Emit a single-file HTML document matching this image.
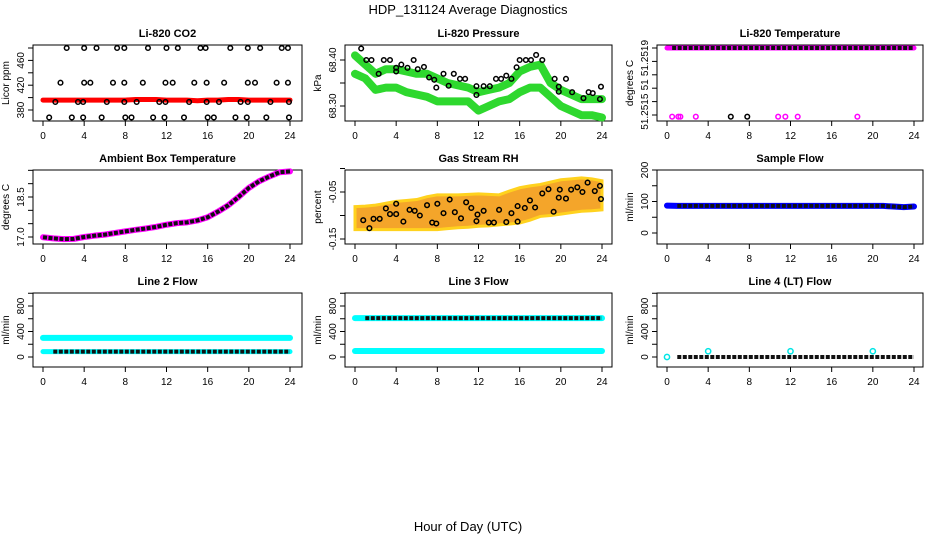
<!DOCTYPE html>
<html><head><meta charset="utf-8"><style>
body{margin:0;background:#fff;}
svg{display:block;font-family:"Liberation Sans",sans-serif;}
</style></head><body>
<svg id="c" width="936" height="540" viewBox="0 0 936 540">
<text x="468" y="14" text-anchor="middle" font-size="13">HDP_131124  Average Diagnostics</text>
<text x="468" y="531" text-anchor="middle" font-size="13">Hour of Day (UTC)</text>
</svg>
<script>
// ---- data ----
const hours = [0,1,2,3,4,5,6,7,8,9,10,11,12,13,14,15,16,17,18,19,20,21,22,23,24];
const xTicks = [0,4,8,12,16,20,24];
// CO2
const co2Red = [396,396,396,396,396,396,396,396,396,397,397,397,396,396,396,395,396,396,397,397,396,396,396,396,396];
const co2TopT = [2.3,4.0,5.2,7.2,7.9,10.2,12.0,13.1,15.3,15.8,18.2,19.9,21.1,23.2,23.8];
const co2TopV = [480,480,480,480,480,480,480,480,480,480,480,480,480,480,480];
const co2MidT = [1.7,4.0,4.6,6.8,7.9,9.7,11.9,12.6,14.7,15.9,17.6,19.9,20.6,22.7,23.8];
const co2MidV = [424,424,424,424,424,424,424,424,424,424,424,424,424,424,424];
const co2LowT = [1.2,3.4,3.9,6.2,7.9,9.1,11.3,11.9,14.2,15.9,17.1,19.2,19.9,22.1,23.9];
const co2LowV = [393,393,393,393,393,393,393,393,393,393,393,393,393,393,393];
const co2BotT = [0.6,2.8,3.9,5.7,8.0,8.6,10.7,11.8,13.7,16.0,16.6,18.7,19.8,21.7,23.9];
const co2BotV = [368,368,368,368,368,368,368,368,368,368,368,368,368,368,368];
// Pressure
const presUpper = [68.41,68.39,68.37,68.38,68.38,68.375,68.37,68.37,68.36,68.35,68.345,68.34,68.33,68.335,68.34,68.35,68.375,68.385,68.39,68.35,68.335,68.325,68.315,68.315,68.315];
const presLower = [68.37,68.36,68.335,68.34,68.34,68.33,68.325,68.32,68.31,68.31,68.31,68.31,68.29,68.3,68.31,68.315,68.33,68.34,68.34,68.32,68.30,68.29,68.28,68.28,68.275];
const presT = [0.6,1.1,1.6,2.3,2.8,3.4,4.0,4.0,4.5,5.1,5.7,6.1,6.7,7.2,7.7,7.9,8.6,9.1,9.6,10.2,10.7,11.8,11.8,12.5,13.1,13.7,14.2,14.7,15.2,15.7,16.0,16.6,17.1,17.6,18.2,19.4,19.8,19.8,20.5,21.1,22.2,22.7,23.1,23.8,23.9];
const presV = [68.425,68.40,68.40,68.37,68.40,68.40,68.383,68.375,68.39,68.383,68.40,68.38,68.385,68.362,68.357,68.34,68.37,68.344,68.37,68.359,68.359,68.343,68.324,68.343,68.343,68.359,68.359,68.366,68.359,68.384,68.40,68.40,68.40,68.411,68.40,68.359,68.342,68.331,68.359,68.33,68.317,68.33,68.328,68.315,68.342];
// Li-820 temperature
const tempTopV = [51.2519,51.2519];
const tempTopT = [0,24];
const tempLowMagT = [0.5,1.1,1.3,2.8,10.8,11.5,12.7,18.5];
const tempLowBlkT = [6.2,7.8];
const tempLowV = 51.25149;
// Ambient box temperature
const ambV = [16.99,16.95,16.92,16.93,17.0,17.05,17.09,17.15,17.21,17.27,17.32,17.38,17.46,17.52,17.55,17.62,17.74,17.95,18.19,18.5,18.84,19.09,19.27,19.43,19.46];
// Gas stream RH
const rhUpper = [-0.081,-0.080,-0.078,-0.074,-0.070,-0.068,-0.066,-0.060,-0.056,-0.056,-0.056,-0.055,-0.054,-0.055,-0.056,-0.048,-0.041,-0.037,-0.034,-0.029,-0.024,-0.022,-0.020,-0.022,-0.026];
const rhLower = [-0.13,-0.13,-0.13,-0.13,-0.13,-0.13,-0.13,-0.13,-0.13,-0.128,-0.126,-0.125,-0.123,-0.122,-0.12,-0.118,-0.116,-0.11,-0.102,-0.1,-0.097,-0.094,-0.091,-0.09,-0.088];
const rhT = [0.8,1.4,1.8,2.4,3.0,3.4,4.0,4.0,4.7,5.3,5.8,6.3,7.0,7.5,7.9,8.0,8.6,9.2,9.7,10.3,10.8,11.3,11.8,11.9,12.5,13.0,13.5,14.0,14.7,15.2,15.8,15.8,16.5,17.0,17.5,18.2,18.8,19.3,19.8,19.9,20.5,21.0,21.6,22.1,22.6,23.3,23.8,23.9];
const rhV = [-0.11,-0.127,-0.107,-0.107,-0.085,-0.097,-0.075,-0.097,-0.113,-0.088,-0.09,-0.1,-0.078,-0.115,-0.117,-0.075,-0.095,-0.066,-0.093,-0.106,-0.072,-0.084,-0.112,-0.098,-0.09,-0.115,-0.115,-0.088,-0.114,-0.095,-0.08,-0.113,-0.084,-0.068,-0.083,-0.053,-0.044,-0.092,-0.062,-0.045,-0.064,-0.045,-0.04,-0.05,-0.03,-0.048,-0.037,-0.065];
// Flows
const sampleV = [87,86,86,86,86,86,86,86,86,86,86,86,86,86,86,86,86,86,86,86,86,86,84,82,84];
const line2Cyan = [300,300,300,300,300,300,300,300,300,300,300,300,300,300,300,300,300,300,300,300,300,300,300,300,300];
const line2Blk = [85,85,85,85,85,85,85,85,85,85,85,85,85,85,85,85,85,85,85,85,85,85,85,85,85];
const line3Blk = [610,610,610,610,610,610,610,610,610,610,610,610,610,610,610,610,610,610,610,610,610,610,610,610,610];
const line3Cyan = [95,95,95,95,95,95,95,95,95,95,95,95,95,95,95,95,95,95,95,95,95,95,95,95,95];
const line4Blk = [0,0,0,0,0,0,0,0,0,0,0,0,0,0,0,0,0,0,0,0,0,0,0,0,0];
const line4SpikeT = [0,4,12,20];
const line4SpikeV = [0,90,90,90];

// ---- drawing ----
const svg = document.getElementById('c');
const NS = 'http://www.w3.org/2000/svg';
function mk(tag, attrs, parent){const e=document.createElementNS(NS,tag);for(const k in attrs)e.setAttribute(k,attrs[k]);(parent||svg).appendChild(e);return e;}

function panel(cfg){
  const g = mk('g',{});
  
  
  const sx = t => cfg.px0 + (t/24)*(cfg.px1-cfg.px0);
  const sy = v => cfg.py0 + (v-cfg.v0)*(cfg.py1-cfg.py0)/(cfg.v1-cfg.v0);
  const box = mk('rect',{x:cfg.bx0,y:cfg.by0,width:cfg.bx1-cfg.bx0,height:cfg.by1-cfg.by0,fill:'none',stroke:'#000','stroke-width':1},g);
  
  
  const t = mk('text',{x:(cfg.bx0+cfg.bx1)/2,y:cfg.by0-8,'text-anchor':'middle','font-size':11,'font-weight':'bold'},g);
  t.textContent = cfg.title;
  
  
  xTicks.forEach(v=>{
    mk('line',{x1:sx(v),x2:sx(v),y1:cfg.by1,y2:cfg.by1+5,stroke:'#000'},g);
    const l = mk('text',{x:sx(v),y:cfg.by1+18,'text-anchor':'middle','font-size':10},g);
    l.textContent = v;
    
    
  });
  cfg.yTicks.forEach(v=>{
    mk('line',{x1:cfg.bx0,x2:cfg.bx0-5,y1:sy(v),y2:sy(v),stroke:'#000'},g);
  });
  cfg.yLabels.forEach((lab,i)=>{
    const y = sy(cfg.yLabelVals[i]); const x = cfg.bx0-9;
    const l = mk('text',{x:x,y:y,'text-anchor':'middle','font-size':10,transform:`rotate(-90 ${x} ${y})`},g);
    l.textContent = lab;
    
    
  });
  const yx = cfg.bx0-24, yy=(cfg.by0+cfg.by1)/2;
  const yl = mk('text',{x:yx,y:yy,'text-anchor':'middle','font-size':10,transform:`rotate(-90 ${yx} ${yy})`},g);
  yl.textContent = cfg.ylab;
  
  
  return {g,sx,sy};
}
function band(p, ts, vs, color, w){
  const pts = ts.map((t,i)=>p.sx(t)+','+p.sy(vs[i])).join(' ');
  const e = mk('polyline',{points:pts,fill:'none',stroke:color,'stroke-width':w,'stroke-linecap':'round','stroke-linejoin':'round'},p.g);
  
  
  return e;
}
function dots(p, ts, vs, color, r){
  ts.forEach((t,i)=>{
    const v = Array.isArray(vs)?vs[i]:vs;
    const c = mk('circle',{cx:p.sx(t),cy:p.sy(v),r:r||2.3,fill:'none',stroke:color,'stroke-width':1.5},p.g);
    
    
  });
}
function dashed(p, ts, vs){
  const pts = ts.map((t,i)=>p.sx(t)+','+p.sy(vs[i])).join(' ');
  const e = mk('polyline',{points:pts,fill:'none',stroke:'#111','stroke-width':4,'stroke-dasharray':'4 1.5'},p.g);
  
  
}

const c1 = {x0:33,x1:302,p0:43,p1:290}, c2={x0:345,x1:612,p0:355,p1:602}, c3={x0:657,x1:923,p0:667,p1:914};
const r1 = {y0:45,y1:121}, r2={y0:170,y1:244}, r3={y0:293,y1:367};
function base(c,r){return {bx0:c.x0,bx1:c.x1,px0:c.p0,px1:c.p1,by0:r.y0,by1:r.y1};}

// P1 CO2
let p = panel(Object.assign(base(c1,r1),{name:'co2-panel',title:'Li-820 CO2',ylab:'Licor ppm',v0:380,py0:110,v1:480,py1:48,yTicks:[380,400,420,440,460,480],yLabels:['380','420','460'],yLabelVals:[380,420,460]}));
band(p,hours,co2Red,'#ff0000',5);
dots(p,co2TopT,co2TopV,'#000'); dots(p,co2MidT,co2MidV,'#000'); dots(p,co2LowT,co2LowV,'#000'); dots(p,co2BotT,co2BotV,'#000');

// P2 Pressure
p = panel(Object.assign(base(c2,r1),{name:'pressure-panel',title:'Li-820 Pressure',ylab:'kPa',v0:68.30,py0:106,v1:68.40,py1:60,yTicks:[68.30,68.35,68.40],yLabels:['68.30','68.40'],yLabelVals:[68.30,68.40]}));
band(p,hours,presLower,'#2ed82e',8); band(p,hours,presUpper,'#2ed82e',8);
dots(p,presT,presV,'#000');

// P3 Temperature
p = panel(Object.assign(base(c3,r1),{name:'li820-temperature-panel',title:'Li-820 Temperature',ylab:'degrees C',v0:51.2515,py0:115,v1:51.2519,py1:48,yTicks:[51.2515,51.25158,51.25166,51.25174,51.25182,51.2519],yLabels:['51.2515','51','51.2519'],yLabelVals:[51.25152,51.25168,51.25184]}));
band(p,tempTopT,tempTopV,'#ff00ff',5);
dashed(p,[0.5,24],[51.2519,51.2519]);
dots(p,tempLowMagT,tempLowV,'#ff00ff'); dots(p,tempLowBlkT,tempLowV,'#000');

// P4 Ambient
p = panel(Object.assign(base(c1,r2),{name:'ambient-temperature-panel',title:'Ambient Box Temperature',ylab:'degrees C',v0:17.0,py0:237,v1:18.5,py1:197,yTicks:[17.0,17.5,18.0,18.5,19.0,19.5],yLabels:['17.0','18.5'],yLabelVals:[17.0,18.5]}));
band(p,hours,ambV,'#ff00ff',6);
dashed(p,hours.slice(0),ambV);

// P5 RH
p = panel(Object.assign(base(c2,r2),{name:'gas-stream-rh-panel',title:'Gas Stream RH',ylab:'percent',v0:-0.05,py0:192,v1:-0.15,py1:239,yTicks:[0,-0.05,-0.10,-0.15],yLabels:['-0.05','-0.15'],yLabelVals:[-0.05,-0.15]}));
{
  const pts = hours.map((t,i)=>p.sx(t)+','+p.sy(rhUpper[i])).concat(hours.slice().reverse().map((t,j)=>p.sx(t)+','+p.sy(rhLower[hours.length-1-j]))).join(' ');
  const poly = mk('polygon',{points:pts,fill:'#f4a52a',stroke:'#ffd21e','stroke-width':3},p.g);
  
  
}
dots(p,rhT,rhV,'#000');

// P6 Sample flow
p = panel(Object.assign(base(c3,r2),{name:'sample-flow-panel',title:'Sample Flow',ylab:'ml/min',v0:0,py0:233,v1:200,py1:170,yTicks:[0,50,100,150,200],yLabels:['0','100','200'],yLabelVals:[0,100,200]}));
band(p,hours,sampleV,'#0000ff',6);
dashed(p,hours.slice(1),sampleV.slice(1));

// Row 3
const flowCfg = {v0:0,py0:357,v1:800,py1:306,yTicks:[0,200,400,600,800,1000],yLabels:['0','400','800'],yLabelVals:[0,400,800],ylab:'ml/min'};
p = panel(Object.assign(base(c1,r3),flowCfg,{name:'line2-flow-panel',title:'Line 2 Flow'}));
band(p,hours,line2Cyan,'#00ffff',6); band(p,hours,line2Blk,'#00ffff',5);
dashed(p,hours.slice(1),line2Blk.slice(1));

p = panel(Object.assign(base(c2,r3),flowCfg,{name:'line3-flow-panel',title:'Line 3 Flow'}));
band(p,hours,line3Blk,'#00ffff',6); band(p,hours,line3Cyan,'#00ffff',6);
dashed(p,hours.slice(1),line3Blk.slice(1));

p = panel(Object.assign(base(c3,r3),flowCfg,{name:'line4-flow-panel',title:'Line 4 (LT) Flow'}));
dashed(p,hours.slice(1),line4Blk.slice(1));
dots(p,line4SpikeT,line4SpikeV,'#00e5e5',2.6);
</script>
</body></html>
